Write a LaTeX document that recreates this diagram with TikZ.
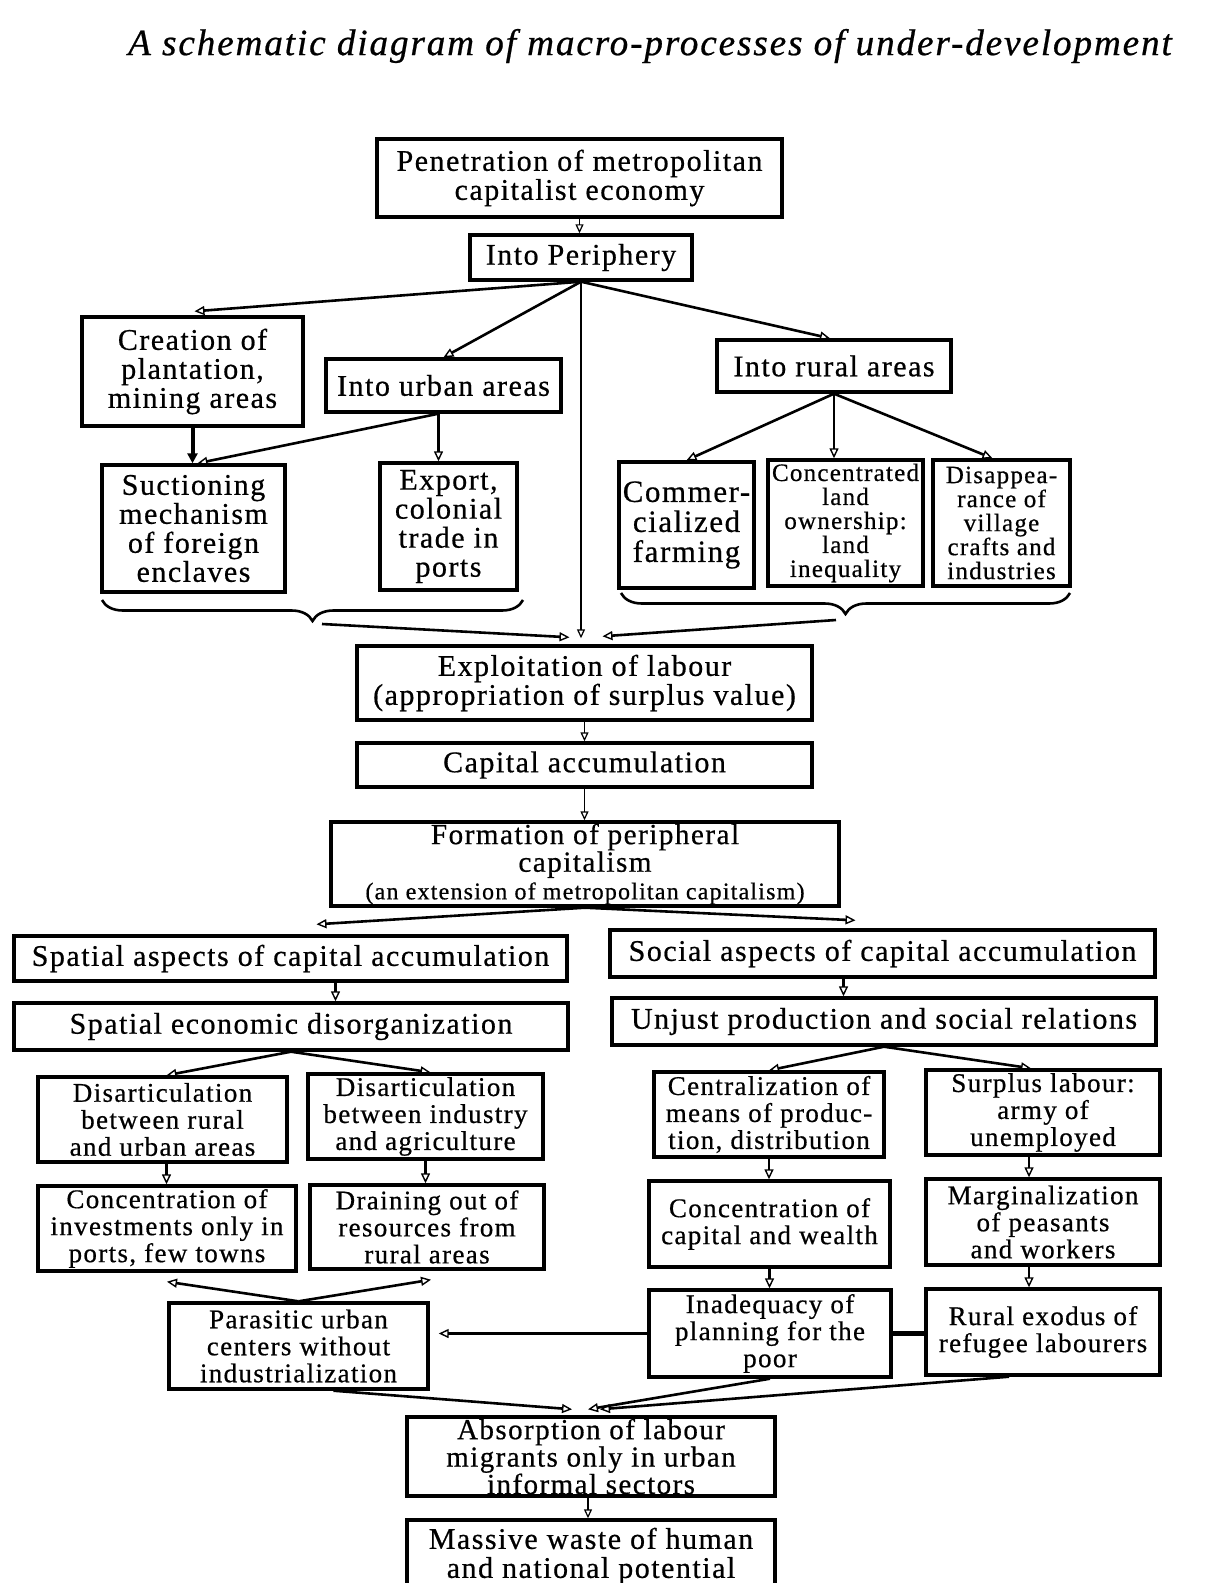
\documentclass[tikz,border=0pt]{standalone}
\usepackage{fontspec}
\setmainfont{Liberation Serif}[LetterSpace=5,FakeBold=0.6]
\usetikzlibrary{arrows.meta,calc,decorations.pathreplacing}
\newcommand\fsz[2]{\fontsize{#1}{#2}\selectfont\lineskiplimit=-20pt\relax}
\tikzset{
  box/.style={draw, line width=1.7pt, inner sep=0pt, align=center, font=\fsz{15}{14.5}},
  lbox/.style={box, font=\fsz{13.5}{13.5}},
  wh/.style n args={2}{minimum width=#1pt, minimum height=#2pt},
  arr/.style={line width=1.3pt, -{Triangle[open,length=5pt,width=4.5pt,line width=0.7pt]}},
  tarr/.style={line width=0.8pt, -{Triangle[open,length=4.5pt,width=4pt,line width=0.6pt]}},
  harr/.style={line width=2pt, -{Triangle[length=5pt,width=5pt]}},
  brc/.style={line width=1.3pt, decorate, decoration={brace,mirror,amplitude=10.5pt}},
}
\begin{document}
\begin{tikzpicture}[x=0.5pt,y=-0.5pt]
\useasboundingbox (0,0) rectangle (1212,1583);
\clip (0,0) rectangle (1212,1583);
\node[font=\fsz{18.6}{18.6}\itshape] (title) at (650,46) {A schematic diagram of macro-processes of under-development};

\node[box, wh={202.5}{39}] (pen) at (579.5,178) {Penetration of metropolitan\\capitalist economy};
\node[box, wh={111}{22.5}] (peri) at (581,257.5) {Into Periphery};
\node[box, wh={110.5}{54.5}] (creation) at (192.5,371.5) {Creation of\\plantation,\\mining areas};
\node[box, wh={117.5}{26.5}] (urban) at (443.5,385.5) {Into urban areas};
\node[box, wh={117}{26}] (rural) at (834,366) {Into rural areas};
\node[box, wh={91.5}{63.5}] (suction) at (193.5,528.5) {Suctioning\\mechanism\\of foreign\\enclaves};
\node[box, wh={68.5}{63.5}] (export) at (448.5,526.5) {Export,\\colonial\\trade in\\ports};
\node[box, wh={67.5}{63}, font=\fsz{15.5}{15}] (commer) at (686.5,525) {Commer-\\cialized\\farming};
\node[box, wh={77.5}{63}, font=\fsz{12.5}{12}] (concland) at (845.5,523) {Concentrated\\land\\ownership:\\land\\inequality};
\node[box, wh={68.5}{63}, font=\fsz{12.5}{12}] (disapp) at (1001.5,523) {Disappea-\\rance of\\village\\crafts and\\industries};

\draw[brc] (102,600) -- (523,600);
\draw[brc] (621,593) -- (1070,593);
\coordinate (lb) at (322,624);
\coordinate (rb) at (836,620);

\node[box, wh={227.5}{37}] (expl) at (584.5,683) {Exploitation of labour\\(appropriation of surplus value)};
\node[box, wh={227.5}{22}] (capacc) at (584.5,765) {Capital accumulation};
\node[box, wh={254}{42}, font=\fsz{14.6}{13.8}] (form) at (585,864) {Formation of peripheral\\capitalism\\{\fsz{12}{11.5}(an extension of metropolitan capitalism)}};
\node[box, wh={276.5}{22.5}] (spatasp) at (290.5,958.5) {Spatial aspects of capital accumulation};
\node[box, wh={272.5}{23.5}] (socasp) at (882.5,953.5) {Social aspects of capital accumulation};
\node[box, wh={277}{23.5}] (spatecon) at (291,1026.5) {Spatial economic disorganization};
\node[box, wh={272}{23.5}] (unjust) at (884,1021.5) {Unjust production and social relations};

\node[lbox, wh={124.5}{42.5}] (disrural) at (162.5,1119.5) {Disarticulation\\between rural\\and urban areas};
\node[lbox, wh={117.5}{42.5}] (disind) at (425.5,1116.5) {Disarticulation\\between industry\\and agriculture};
\node[lbox, wh={115}{42.5}] (central) at (769,1114.5) {Centralization of\\means of produc-\\tion, distribution};
\node[lbox, wh={117}{42.5}] (surplus) at (1043,1112.5) {Surplus labour:\\army of\\unemployed};
\node[lbox, wh={129}{42.5}] (concinv) at (167,1228.5) {Concentration of\\investments only in\\ports, few towns};
\node[lbox, wh={117}{42}] (drain) at (427,1227) {Draining out of\\resources from\\rural areas};
\node[lbox, wh={120.5}{43}] (conccap) at (769.5,1224) {Concentration of\\capital and wealth};
\node[lbox, wh={117}{43}] (margin) at (1043,1222) {Marginalization\\of peasants\\and workers};
\node[lbox, wh={129.5}{43}] (parasitic) at (298.5,1346) {Parasitic urban\\centers without\\industrialization};
\node[lbox, wh={121}{43.5}] (inadeq) at (770,1333.5) {Inadequacy of\\planning for the\\poor};
\node[lbox, wh={117}{43}] (exodus) at (1043,1332) {Rural exodus of\\refugee labourers};
\node[box, wh={184}{39.5}, font=\fsz{14.5}{13.7}] (absorb) at (591,1456.5) {Absorption of labour\\migrants only in urban\\informal sectors};
\node[box, wh={184}{36}] (massive) at (591,1556) {Massive waste of human\\and national potential};

% connectors
\draw[tarr] (pen.south) -- (pen.south |- peri.north);
\draw[arr] (peri.south) -- ($(creation.north)+(2,-4)$);
\draw[arr] (peri.south) -- (urban.north);
\draw[arr] (peri.south) -- ($(rural.north)+(-4,0)$);
\coordinate (vtip) at ($(expl.north)+(-3,-6)$);
\draw[tarr] (peri.south) -- (peri.south |- vtip);
\draw[arr] (lb) -- ($(expl.north)+(-15,-7)$);
\draw[arr] (rb) -- ($(expl.north)+(18,-8)$);
\draw[harr] (creation.south) -- (creation.south |- suction.north);
\coordinate (us) at ($(urban.south)+(-5,0)$);
\draw[arr] (us) -- ($(suction.north)+(4,0)$);
\draw[arr] (us) -- (us |- export.north);
\draw[arr] (rural.south) -- (commer.north);
\draw[arr] (rural.south) -- (rural.south |- concland.north);
\draw[arr] (rural.south) -- ($(disapp.north)+(-9,0)$);
\draw[tarr] (expl.south) -- (expl.south |- capacc.north);
\draw[tarr] (capacc.south) -- (capacc.south |- form.north);
\draw[arr] (form.south) -- ($(spatasp.north)+(26,-10)$);
\draw[arr] (form.south) -- ($(socasp.north)+(-27,-8)$);
\coordinate (sa) at ($(spatasp.south)+(45,0)$);
\draw[arr] (sa) -- (sa |- spatecon.north);
\coordinate (so) at ($(socasp.south)+(-39,0)$);
\draw[arr] (so) -- (so |- unjust.north);
\draw[arr] (spatecon.south) -- ($(disrural.north)+(4,0)$);
\draw[arr] (spatecon.south) -- ($(disind.north)+(5,0)$);
\draw[arr] (unjust.south) -- (central.north);
\draw[arr] (unjust.south) -- ($(surplus.north)+(-12,0)$);
\coordinate (dr) at ($(disrural.south)+(4,0)$);
\draw[arr] (dr) -- (dr |- concinv.north);
\draw[arr] (disind.south) -- (disind.south |- drain.north);
\draw[arr] (central.south) -- (central.south |- conccap.north);
\coordinate (sp) at ($(surplus.south)+(-14,0)$);
\draw[arr] (sp) -- (sp |- margin.north);
\draw[arr] (conccap.south) -- (conccap.south |- inadeq.north);
\coordinate (mg) at ($(margin.south)+(-14,0)$);
\draw[arr] (mg) -- (mg |- exodus.north);
\draw[arr] (parasitic.north) -- ($(concinv.south)+(0,9)$);
\draw[arr] (parasitic.north) -- ($(drain.south)+(4,9)$);
\coordinate (pe) at ($(parasitic.east)+(9,0)$);
\draw[arr] (inadeq.west) -- (inadeq.west -| pe);
\draw[line width=2.4pt] (inadeq.east) -- (inadeq.east -| exodus.west);
\draw[arr] ($(parasitic.south)+(35,0)$) -- ($(absorb.north)+(-19,-6)$);
\draw[arr] (inadeq.south) -- ($(absorb.north)+(-3,-6)$);
\draw[arr] ($(exodus.south)+(-34,0)$) -- ($(absorb.north)+(9,-6)$);
\coordinate (ab) at ($(absorb.south)+(-3,0)$);
\draw[tarr] (ab) -- (ab |- massive.north);
\end{tikzpicture}
\end{document}
